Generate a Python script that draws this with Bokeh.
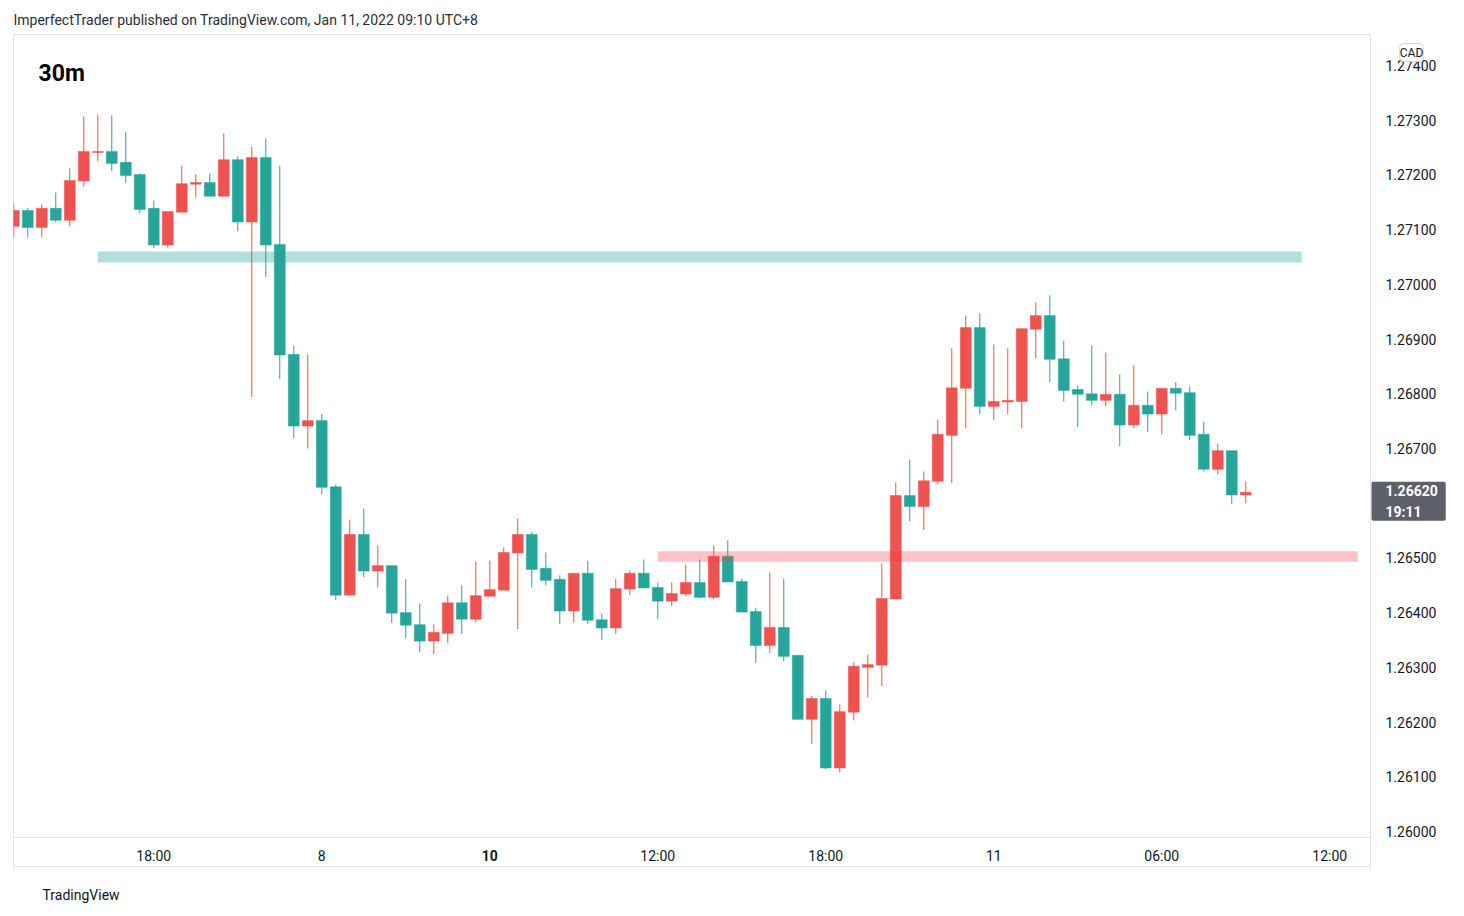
from bokeh.plotting import figure
from bokeh.models import ColumnDataSource, FixedTicker, Label, PrintfTickFormatter, LinearAxis
from bokeh.embed import file_html
from bokeh.resources import INLINE

# ---------------- data ----------------
bar_index = list(range(-10, 79))
opens = [1.27106, 1.27135, 1.27104, 1.27139, 1.27117, 1.27189, 1.27241, 1.27243, 1.27223, 1.27201,
         1.27139, 1.27072, 1.27132, 1.27183, 1.27186, 1.27161, 1.27228, 1.27114, 1.27232, 1.27073,
         1.26872, 1.26741, 1.26751, 1.26630, 1.26432, 1.26543, 1.26476, 1.26486, 1.26400, 1.26378,
         1.26348, 1.26362, 1.26418, 1.26388, 1.26430, 1.26441, 1.26509, 1.26543, 1.26481, 1.26461,
         1.26403, 1.26472, 1.26387, 1.26372, 1.26443, 1.26472, 1.26446, 1.26421, 1.26434, 1.26455,
         1.26428, 1.26503, 1.26457, 1.26402, 1.26340, 1.26373, 1.26322, 1.26205, 1.26243, 1.26116,
         1.26218, 1.26300, 1.26304, 1.26425, 1.26614, 1.26594, 1.26640, 1.26724, 1.26810, 1.26921,
         1.26777, 1.26785, 1.26786, 1.26918, 1.26943, 1.26864, 1.26808, 1.26800, 1.26788, 1.26799,
         1.26743, 1.26779, 1.26763, 1.26810, 1.26802, 1.26726, 1.26662, 1.26696, 1.26615]
highs = [1.27148, 1.27140, 1.27147, 1.27168, 1.27212, 1.27307, 1.27310, 1.27309, 1.27279, 1.27203,
         1.27153, 1.27133, 1.27217, 1.27201, 1.27203, 1.27276, 1.27234, 1.27252, 1.27267, 1.27217,
         1.26888, 1.26872, 1.26763, 1.26634, 1.26570, 1.26590, 1.26523, 1.26486, 1.26461, 1.26417,
         1.26378, 1.26431, 1.26450, 1.26493, 1.26495, 1.26519, 1.26572, 1.26548, 1.26510, 1.26468,
         1.26472, 1.26495, 1.26398, 1.26462, 1.26477, 1.26497, 1.26455, 1.26455, 1.26488, 1.26497,
         1.26523, 1.26532, 1.26462, 1.26409, 1.26473, 1.26462, 1.26322, 1.26248, 1.26258, 1.26232,
         1.26309, 1.26323, 1.26490, 1.26638, 1.26680, 1.26658, 1.26753, 1.26883, 1.26943, 1.26947,
         1.26890, 1.26883, 1.26919, 1.26967, 1.26980, 1.26897, 1.26815, 1.26888, 1.26875, 1.26835,
         1.26852, 1.26804, 1.26810, 1.26821, 1.26813, 1.26749, 1.26709, 1.26696, 1.26640]
lows = [1.27086, 1.27086, 1.27086, 1.27113, 1.27106, 1.27178, 1.27225, 1.27207, 1.27185, 1.27130,
        1.27066, 1.27068, 1.27132, 1.27159, 1.27161, 1.27161, 1.27097, 1.26794, 1.27013, 1.26827,
        1.26719, 1.26700, 1.26616, 1.26423, 1.26432, 1.26465, 1.26446, 1.26381, 1.26353, 1.26328,
        1.26324, 1.26344, 1.26361, 1.26382, 1.26430, 1.26441, 1.26370, 1.26446, 1.26450, 1.26379,
        1.26382, 1.26379, 1.26350, 1.26361, 1.26432, 1.26445, 1.26388, 1.26412, 1.26430, 1.26426,
        1.26425, 1.26456, 1.26401, 1.26308, 1.26326, 1.26311, 1.26205, 1.26160, 1.26114, 1.26108,
        1.26203, 1.26245, 1.26266, 1.26425, 1.26567, 1.26551, 1.26635, 1.26637, 1.26737, 1.26763,
        1.26752, 1.26763, 1.26737, 1.26865, 1.26821, 1.26786, 1.26739, 1.26779, 1.26777, 1.26704,
        1.26737, 1.26730, 1.26726, 1.26770, 1.26715, 1.26658, 1.26653, 1.26598, 1.26600]
closes = [1.27135, 1.27104, 1.27139, 1.27117, 1.27190, 1.27243, 1.27243, 1.27221, 1.27199, 1.27137,
          1.27072, 1.27133, 1.27184, 1.27186, 1.27161, 1.27228, 1.27114, 1.27232, 1.27072, 1.26871,
          1.26741, 1.26751, 1.26629, 1.26432, 1.26543, 1.26476, 1.26486, 1.26399, 1.26377, 1.26348,
          1.26364, 1.26418, 1.26388, 1.26431, 1.26442, 1.26510, 1.26543, 1.26479, 1.26459, 1.26403,
          1.26472, 1.26386, 1.26372, 1.26444, 1.26472, 1.26445, 1.26421, 1.26435, 1.26455, 1.26428,
          1.26503, 1.26456, 1.26401, 1.26340, 1.26373, 1.26320, 1.26205, 1.26243, 1.26116, 1.26219,
          1.26302, 1.26305, 1.26426, 1.26614, 1.26594, 1.26641, 1.26726, 1.26811, 1.26921, 1.26777,
          1.26786, 1.26788, 1.26919, 1.26943, 1.26863, 1.26806, 1.26799, 1.26788, 1.26799, 1.26743,
          1.26779, 1.26763, 1.26810, 1.26801, 1.26724, 1.26662, 1.26696, 1.26615, 1.26620]

time_tick_pos = [0, 12, 24, 36, 48, 60, 72, 84]
time_tick_labels = ["18:00", "8", "10", "12:00", "18:00", "11", "06:00", "12:00"]
bold_time_label = "10"
price_ticks = [1.274, 1.273, 1.272, 1.271, 1.270, 1.269, 1.268, 1.267, 1.265, 1.264, 1.263, 1.262, 1.261, 1.260]

support_band = dict(left=-4, right=82, bottom=1.27040, top=1.27060)
resistance_band = dict(left=36, right=86, bottom=1.26493, top=1.26512)
last_price = 1.26620
countdown = "19:11"
header_text = "ImperfectTrader published on TradingView.com, Jan 11, 2022 09:10 UTC+8"
interval_text = "30m"
currency_text = "CAD"
footer_text = "TradingView"

X_START, X_END = -10.02, 86.91
Y_START, Y_END = 1.25989, 1.274567

UP = "#ef5350"
DOWN = "#26a69a"
FONT = "Roboto"
TXT = "#131722"
BORDER = "#e0e3eb"

colors = [UP if c >= o else DOWN for o, c in zip(opens, closes)]
body_top = [max(o, c) for o, c in zip(opens, closes)]
body_bot = [min(o, c) for o, c in zip(opens, closes)]
src = ColumnDataSource(dict(x=bar_index, o=opens, h=highs, l=lows, c=closes,
                            top=body_top, bot=body_bot, color=colors))

p = figure(width=1464, height=916, title=None,
           x_range=(X_START, X_END), y_range=(Y_START, Y_END),
           output_backend="svg", toolbar_location=None,
           y_axis_location="right", x_axis_location="below",
           min_border_left=13, min_border_right=94, min_border_top=34, min_border_bottom=79)
p.background_fill_color = "white"
p.border_fill_color = "white"
p.outline_line_color = BORDER
p.grid.visible = False

p.segment(x0="x", y0="l", x1="x", y1="h", color="color", line_width=1, source=src)
p.vbar(x="x", top="top", bottom="bot", width=0.78, fill_color="color", line_color="color",
       line_width=0.5, source=src)

p.quad(left=[support_band["left"]], right=[support_band["right"]],
       bottom=[support_band["bottom"]], top=[support_band["top"]],
       fill_color="#26a69a", fill_alpha=0.36, line_color=None)
p.quad(left=[resistance_band["left"]], right=[resistance_band["right"]],
       bottom=[resistance_band["bottom"]], top=[resistance_band["top"]],
       fill_color="#f23645", fill_alpha=0.3, line_color=None)

def style_axis(ax):
    ax.major_label_text_font = FONT
    ax.major_label_text_font_size = "14px"
    ax.major_label_text_color = TXT
    ax.axis_line_color = None
    ax.major_tick_line_color = None
    ax.minor_tick_line_color = None
    ax.major_tick_out = 0
    ax.major_tick_in = 0
    ax.minor_tick_out = 0
    ax.minor_tick_in = 0

# x axis (regular labels)
xa = p.xaxis[0]
xa.ticker = FixedTicker(ticks=time_tick_pos)
xa.major_label_overrides = {pos: ("" if lbl == bold_time_label else lbl)
                            for pos, lbl in zip(time_tick_pos, time_tick_labels)}
style_axis(xa)
xa.major_label_standoff = 10

# zero-height axis whose long ticks at the frame edges close the time-scale row at the sides
edge_pos = [X_START + 0.004, X_END - 0.004]
stub = LinearAxis(ticker=FixedTicker(ticks=edge_pos),
                  major_label_overrides={v: " " for v in edge_pos})
style_axis(stub)
stub.major_tick_out = 33
stub.major_tick_line_color = BORDER
stub.major_label_standoff = -52

# second x axis carrying only the bold day label, pulled back onto the same row
bold_pos = [pos for pos, lbl in zip(time_tick_pos, time_tick_labels) if lbl == bold_time_label]
xb = LinearAxis(ticker=FixedTicker(ticks=bold_pos),
                major_label_overrides={pos: bold_time_label for pos in bold_pos})
style_axis(xb)
xb.major_label_text_font_style = "bold"
xb.major_label_standoff = -17

# invisible spacer, then an axis whose line is the bottom border of the chart box
spacer = LinearAxis(ticker=FixedTicker(ticks=[]))
style_axis(spacer)
spacer.major_tick_out = 11
spacer.major_label_standoff = 0
liner = LinearAxis(ticker=FixedTicker(ticks=[]))
style_axis(liner)
liner.major_label_standoff = 0
liner.axis_line_color = BORDER

# y axis
ya = p.yaxis[0]
ya.ticker = FixedTicker(ticks=price_ticks)
ya.formatter = PrintfTickFormatter(format="%.5f")
style_axis(ya)
ya.major_label_standoff = 15

# in-frame label
p.add_layout(Label(x=38, y=73, x_units="canvas", y_units="canvas", text=interval_text,
                   text_font=FONT, text_font_size="23px", text_font_style="bold", text_color="#000000",
                   text_align="left", text_baseline="middle"))

# labels living in the side panels (outside the frame)
p.add_layout(Label(x=13, y=19, x_units="canvas", y_units="canvas", text=header_text,
                   text_font=FONT, text_font_size="14px", text_color="#2a2e39",
                   text_align="left", text_baseline="middle"), "above")
p.add_layout(Label(x=42, y=894, x_units="canvas", y_units="canvas", text=footer_text,
                   text_font=FONT, text_font_size="14px", text_color=TXT,
                   text_align="left", text_baseline="middle"), "above")
p.add_layout(Label(x=1411, y=52, x_units="canvas", y_units="canvas", text=currency_text,
                   text_font=FONT, text_font_size="12px", text_color=TXT,
                   text_align="center", text_baseline="middle",
                   background_fill_color="white", border_line_color="#d1d4dc",
                   padding=dict(left=0, right=0, top=2, bottom=2), border_radius=4), "right")
last_label = Label(x=1371, y=last_price, x_units="canvas", y_units="data", y_offset=-9,
                   text="%.5f\n%s" % (last_price, countdown),
                   text_font=FONT, text_font_size="14px", text_font_style="bold", text_color="white",
                   text_line_height=1.3,
                   text_align="left", text_baseline="middle",
                   background_fill_color="#5d606b", padding=dict(left=14, right=8, top=1, bottom=1),
                   border_radius=2)

p.below = [stub, xa, xb, spacer, liner, last_label]

open("out.html", "w").write(file_html(p, INLINE))
